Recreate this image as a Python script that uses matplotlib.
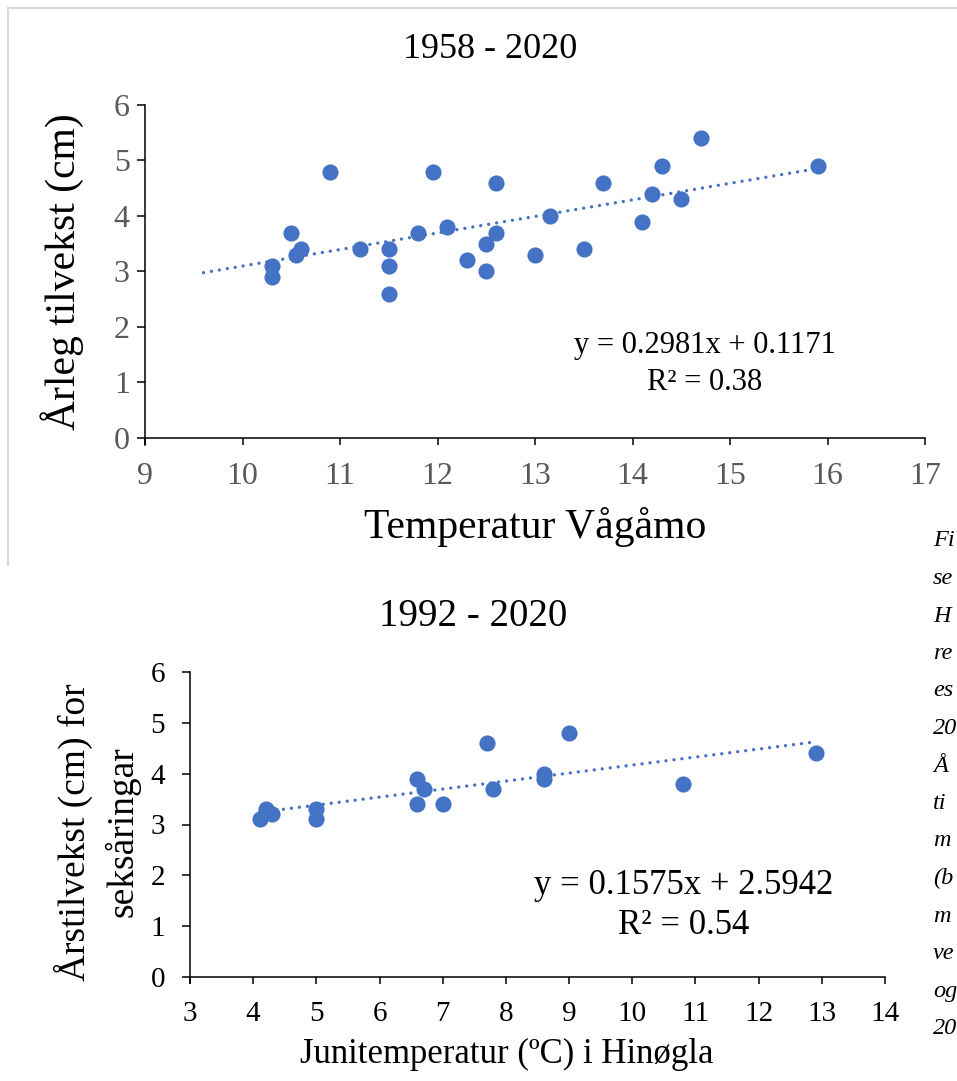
"""Two growth-vs-temperature scatter panels with Excel-style linear trendlines."""
import matplotlib

matplotlib.use("Agg")
import matplotlib.pyplot as plt  # noqa: E402
from matplotlib.lines import Line2D  # noqa: E402
import numpy as np  # noqa: E402

plt.rcParams["font.family"] = ["Liberation Serif", "DejaVu Serif"]

W, H = 957, 1081
BLUE = "#4472C4"
GREY_TXT = "#595959"

# --- top panel: 1958 - 2020 ---
top_title = "1958 - 2020"
top_temp = [10.3, 10.3, 10.5, 10.6, 10.55, 10.9, 11.2, 11.5, 11.5, 11.5,
            11.8, 11.95, 12.1, 12.3, 12.5, 12.5, 12.6, 12.6, 13.0, 13.15,
            13.5, 13.7, 14.1, 14.2, 14.3, 14.5, 14.7, 15.9]
top_growth = [3.1, 2.9, 3.7, 3.4, 3.3, 4.8, 3.4, 3.4, 3.1, 2.6,
              3.7, 4.8, 3.8, 3.2, 3.5, 3.0, 4.6, 3.7, 3.3, 4.0,
              3.4, 4.6, 3.9, 4.4, 4.9, 4.3, 5.4, 4.9]
top_fit = (0.2981, 0.1171)
top_fit_range = (9.6, 15.95)
top_eq = ["y = 0.2981x + 0.1171", "R² = 0.38"]
top_xticks = list(range(9, 18))
top_yticks = list(range(0, 7))

# --- bottom panel: 1992 - 2020 ---
bot_title = "1992 - 2020"
bot_temp = [4.1, 4.2, 4.3, 5.0, 5.0, 6.6, 6.7, 6.6, 7.0, 7.7,
            7.8, 8.6, 8.6, 9.0, 10.8, 12.9]
bot_growth = [3.1, 3.3, 3.2, 3.3, 3.1, 3.9, 3.7, 3.4, 3.4, 4.6,
              3.7, 4.0, 3.9, 4.8, 3.8, 4.4]
bot_fit = (0.1575, 2.5942)
bot_fit_range = (4.1, 12.85)
bot_eq = ["y = 0.1575x + 2.5942", "R² = 0.54"]
bot_xticks = list(range(3, 15))
bot_yticks = list(range(0, 7))

# visible start of the caption that the page crops on the right edge
caption_bits = ["Fi", "se", "H", "re", "es", "20", "Å", "ti",
                "m", "(b", "m", "ve", "og", "20"]


def px(x, y):
    """pixel (from top-left) -> figure fraction"""
    return x / W, 1 - y / H


def axes_rect(left, top, right, bottom):
    return [left / W, 1 - bottom / H, (right - left) / W, (bottom - top) / H]


def panel(ax, xs, ys, fit, fit_range, xticks, yticks, tick_color, tick_size,
          xpad, ypad):
    ax.scatter(xs, ys, s=135, color=BLUE, zorder=3, linewidths=0)
    fx = np.array(fit_range)
    ax.plot(fx, fit[0] * fx + fit[1], color=BLUE, lw=2.4,
            linestyle=(0, (0.01, 2.4)), dash_capstyle="round", zorder=2)
    ax.set_xlim(xticks[0], xticks[-1])
    ax.set_ylim(yticks[0], yticks[-1])
    ax.set_xticks(xticks)
    ax.set_yticks(yticks)
    for s in ("top", "right"):
        ax.spines[s].set_visible(False)
    for s in ("left", "bottom"):
        ax.spines[s].set_linewidth(1.1)
        ax.spines[s].set_color("black")
    ax.spines["left"].set_bounds(yticks[0] - 0.12, yticks[-1])
    ax.tick_params(axis="x", length=5, width=1.1, pad=xpad,
                   labelsize=tick_size, labelcolor=tick_color)
    ax.tick_params(axis="y", length=6, width=1.1, pad=ypad,
                   labelsize=tick_size, labelcolor=tick_color)


fig = plt.figure(figsize=(W / 100, H / 100), dpi=100)

# light grey frame of the upper chart object (right side runs off the page)
fig.add_artist(Line2D([8 / W, 1.0], [1 - 8 / H, 1 - 8 / H],
                      transform=fig.transFigure, color="#d9d9d9", lw=1.5))
fig.add_artist(Line2D([8 / W, 8 / W], [1 - 8 / H, 1 - 565 / H],
                      transform=fig.transFigure, color="#d9d9d9", lw=1.5))

ax1 = fig.add_axes(axes_rect(145, 105, 925, 438))
panel(ax1, top_temp, top_growth, top_fit, top_fit_range, top_xticks,
      top_yticks, GREY_TXT, 23, 12, 5)
fig.text(*px(490, 50), top_title, fontsize=26, ha="center", va="center")
fig.text(*px(535, 527), "Temperatur Vågåmo", fontsize=30,
         ha="center", va="center")
fig.text(*px(62, 272), "Årleg tilvekst (cm)", fontsize=30, rotation=90,
         ha="center", va="center")
fig.text(*px(705, 345), top_eq[0], fontsize=22, ha="center", va="center")
fig.text(*px(705, 383), top_eq[1], fontsize=22, ha="center", va="center")

ax2 = fig.add_axes(axes_rect(190, 672, 885, 977))
panel(ax2, bot_temp, bot_growth, bot_fit, bot_fit_range, bot_xticks,
      bot_yticks, "black", 21, 12, 12)
fig.text(*px(473, 617), bot_title, fontsize=28, ha="center", va="center")
fig.text(*px(507, 1054), "Junitemperatur (ºC) i Hinøgla", fontsize=25,
         ha="center", va="center")
fig.text(*px(97, 832), "Årstilvekst (cm) for\nseksåringar", fontsize=27,
         rotation=90, ha="center", va="center", multialignment="center",
         linespacing=1.4)
fig.text(*px(684, 885), bot_eq[0], fontsize=25, ha="center", va="center")
fig.text(*px(684, 925), bot_eq[1], fontsize=25, ha="center", va="center")

for i, bit in enumerate(caption_bits):
    fig.text(*px(933, 541 + i * 37.5), bit, fontsize=17.5, style="italic",
             ha="left", va="center")

fig.savefig("out.png", dpi=100)
